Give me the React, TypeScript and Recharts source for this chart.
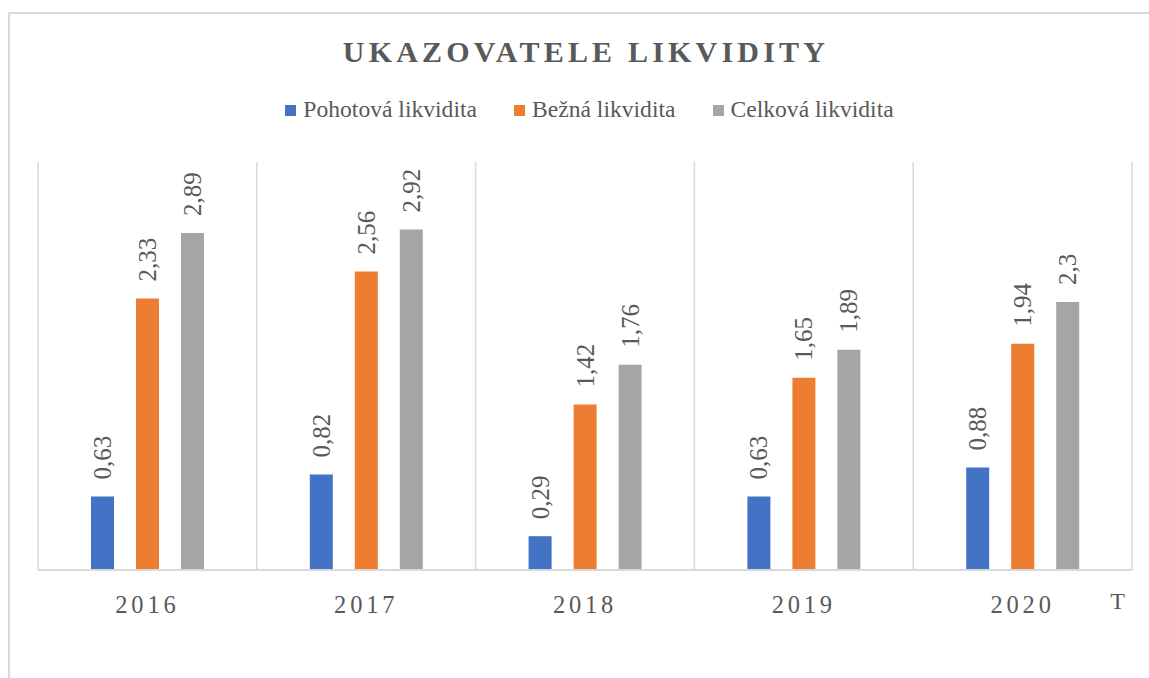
import React from 'react';
import { BarChart, Bar, XAxis, YAxis, CartesianGrid, Legend, LabelList } from 'recharts';

const categories = ['2016', '2017', '2018', '2019', '2020'];
const pohotova = [0.63, 0.82, 0.29, 0.63, 0.88];
const bezna = [2.33, 2.56, 1.42, 1.65, 1.94];
const celkova = [2.89, 2.92, 1.76, 1.89, 2.3];
const seriesNames = ['Pohotová likvidita', 'Bežná likvidita', 'Celková likvidita'];
const titleText = 'UKAZOVATELE LIKVIDITY';
const axisLabel = 'T';

const data = categories.map((c, i) => ({
  year: c,
  pohotova: pohotova[i],
  bezna: bezna[i],
  celkova: celkova[i],
}));

const FONT = '"Liberation Serif", "Times New Roman", serif';
const TEXT = '#595959';
const GRID = '#d9d9d9';
const COLORS = ['#4472C4', '#ED7D31', '#A5A5A5'];

const W = 1149;
const H = 678;

const fmt = (v: any) => String(v).replace('.', ',');

const ValueLabel = (props: any) => {
  const { x, y, width, value } = props;
  const cx = Number(x) + Number(width) / 2;
  const top = Number(y) - 17;
  return (
    <text
      transform={`translate(${cx},${top}) rotate(-90)`}
      dy="0.34em"
      textAnchor="start"
      fill={TEXT}
      fontFamily={FONT}
      fontSize={25}
    >
      {fmt(value)}
    </text>
  );
};

const YearTick = (props: any) => {
  const { x, y, payload } = props;
  return (
    <text
      x={x}
      y={Number(y) + 41}
      textAnchor="middle"
      fill={TEXT}
      fontFamily={FONT}
      fontSize={24.5}
      letterSpacing={3.8}
    >
      {payload.value}
    </text>
  );
};

const LegendContent = (props: any) => {
  const payload = [...(props.payload || [])].sort(
    (a: any, b: any) => seriesNames.indexOf(a.value) - seriesNames.indexOf(b.value)
  );
  return (
    <div
      style={{
        display: 'flex',
        justifyContent: 'center',
        alignItems: 'center',
        gap: 37,
        fontFamily: FONT,
        fontSize: 23.6,
        color: TEXT,
        lineHeight: '26px',
      }}
    >
      {payload.map((p: any) => (
        <div key={p.value} style={{ display: 'flex', alignItems: 'center' }}>
          <span
            style={{
              display: 'inline-block',
              width: 11,
              height: 11,
              background: p.color,
              marginRight: 7,
              marginTop: 3,
            }}
          />
          <span>{p.value}</span>
        </div>
      ))}
    </div>
  );
};

const gridX = ({ offset }: any) => {
  const n = categories.length;
  const out: number[] = [];
  for (let i = 0; i <= n; i++) out.push(offset.left + (i * offset.width) / n);
  return out;
};

export default function App() {
  return (
    <div
      style={{
        position: 'fixed',
        left: 0,
        top: 0,
        width: W,
        height: H,
        overflow: 'hidden',
        background: '#fff',
      }}
    >
      <div
        style={{
          position: 'absolute',
          left: 8,
          top: 12,
          width: 1300,
          height: 800,
          border: `2px solid ${GRID}`,
          boxSizing: 'border-box',
        }}
      />
      <div style={{ position: 'absolute', left: 0, top: 0 }}>
        <BarChart
          width={W}
          height={H}
          data={data}
          margin={{ top: 162, right: 17, bottom: 48, left: 38 }}
          barSize={23}
          barGap={22}
        >
          <CartesianGrid
            horizontal={false}
            vertical
            stroke={GRID}
            strokeWidth={1.5}
            verticalCoordinatesGenerator={gridX}
          />
          <XAxis
            dataKey="year"
            height={60}
            tickLine={false}
            tickSize={0}
            axisLine={{ stroke: GRID, strokeWidth: 2 }}
            tick={<YearTick />}
            interval={0}
            label={{
              value: axisLabel,
              position: 'insideRight',
              offset: 7,
              fill: TEXT,
              fontFamily: FONT,
              fontSize: 24,
            }}
          />
          <YAxis hide domain={[0, 3.5]} />
          <Legend
            verticalAlign="middle"
            content={<LegendContent />}
            wrapperStyle={{ top: 96, left: 15, width: W, height: 30 }}
          />
          <Bar dataKey="pohotova" name={seriesNames[0]} fill={COLORS[0]} isAnimationActive={false}>
            <LabelList dataKey="pohotova" content={<ValueLabel />} />
          </Bar>
          <Bar dataKey="bezna" name={seriesNames[1]} fill={COLORS[1]} isAnimationActive={false}>
            <LabelList dataKey="bezna" content={<ValueLabel />} />
          </Bar>
          <Bar dataKey="celkova" name={seriesNames[2]} fill={COLORS[2]} isAnimationActive={false}>
            <LabelList dataKey="celkova" content={<ValueLabel />} />
          </Bar>
        </BarChart>
      </div>
      <svg
        width={W}
        height={80}
        style={{ position: 'absolute', left: 0, top: 0, pointerEvents: 'none' }}
      >
        <text
          x={586}
          y={62}
          textAnchor="middle"
          fill={TEXT}
          fontFamily={FONT}
          fontWeight="bold"
          fontSize={30}
          letterSpacing={4.2}
        >
          {titleText}
        </text>
      </svg>
    </div>
  );
}
